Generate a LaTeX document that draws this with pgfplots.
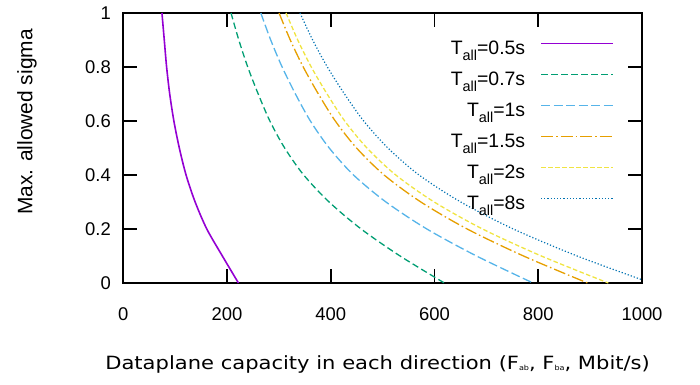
\documentclass[border=0pt]{standalone}
\usepackage{fontspec}
\setmainfont{Liberation Sans}
\newfontfamily\dejavu{DejaVu Sans}
\usepackage{pgfplots}
\pgfplotsset{compat=1.18}
\definecolor{cpurple}{HTML}{9400D3}
\definecolor{cgreen}{HTML}{009E73}
\definecolor{cblue}{HTML}{56B4E9}
\definecolor{corange}{HTML}{E69F00}
\definecolor{cyellow}{HTML}{F0E442}
\definecolor{cdblue}{HTML}{0072B2}
\newcommand\Tall{T\raisebox{-6bp}{\fontsize{14.5}{14.5}\selectfont all}}
\newcommand\sub[1]{\raisebox{-1bp}{\fontsize{7}{7}\selectfont #1}}
\begin{document}
\begin{tikzpicture}
\begin{axis}[name=ax,
  scale only axis, width=518.7bp, height=270bp,
  xmin=0, xmax=1000, ymin=0, ymax=1,
  xtick={0,200,400,600,800,1000},
  ytick={0,0.2,0.4,0.6,0.8,1},
  yticklabels={0,0.2,0.4,0.6,0.8,1},
  /pgf/number format/1000 sep={},
  /pgf/number format/assume math mode=true,
  tick align=inside,
  major tick length=14bp,
  axis line style={line width=1.6bp},
  every tick/.style={black, line width=1.6bp},
  ticklabel style={font=\fontsize{18.5}{20}\selectfont},
  xticklabel style={yshift=-21bp},
  yticklabel style={xshift=-9bp},
  xlabel={\scalebox{1.155}[1]{\dejavu Dataplane capacity in each direction (F\sub{ab}, F\sub{ba}, Mbit/s)}},
  xlabel style={font=\fontsize{18.3}{20}\selectfont, at={(axis description cs:0.5,0)}, anchor=base, yshift=-86bp, xshift=-5bp},
  ylabel={Max. allowed sigma},
  ylabel style={font=\fontsize{21}{22}\selectfont, at={(axis description cs:-0.1857,0.596)}, anchor=center},
  legend style={draw=none, fill=none, at={(rel axis cs:1,1)}, anchor=north east,
    xshift=-25bp, yshift=-25bp, row sep=10bp, column sep=15bp,
    font=\fontsize{19.5}{20}\selectfont,
    nodes={inner sep=0pt, text height=14bp, text depth=7bp}},
  legend cell align=right,
  legend plot pos=right,
  legend image code/.code={\draw[#1, line width=1.6bp] (0bp,7bp) -- (72bp,7bp);},
]
\addplot[cpurple, line width=1.6bp, smooth] coordinates {
(74.5,1) (79,0.9) (83.5,0.8) (89.5,0.7) (97.5,0.6) (108,0.5) (121,0.4) (138.5,0.3) (161,0.2) (191,0.1) (222,0)};
\addlegendentry{\Tall=0.5s}
\addplot[cgreen, line width=1.3bp, smooth, dash pattern=on 6.5bp off 3.5bp] coordinates {
(207.7,1) (222.7,0.9) (239.9,0.8) (260.1,0.7) (282.6,0.6) (311.1,0.5) (347.8,0.4) (396.8,0.3) (458.5,0.2) (533.6,0.1) (619,0)};
\addlegendentry{\Tall=0.7s}
\addplot[cblue, line width=1.3bp, smooth, dash pattern=on 9bp off 3.5bp] coordinates {
(265.1,1) (284.2,0.9) (306.2,0.8) (331.9,0.7) (360.7,0.6) (397.0,0.5) (443.8,0.4) (506.4,0.3) (585.2,0.2) (681.0,0.1) (790,0)};
\addlegendentry{\Tall=1s}
\addplot[corange, line width=1.3bp, smooth, dash pattern=on 12bp off 3bp on 1.5bp off 3bp] coordinates {
(300.3,1) (321.9,0.9) (346.9,0.8) (376.1,0.7) (408.7,0.6) (449.7,0.5) (502.8,0.4) (573.7,0.3) (663.0,0.2) (771.6,0.1) (895,0)};
\addlegendentry{\Tall=1.5s}
\addplot[cyellow, line width=1.3bp, smooth, dash pattern=on 4.5bp off 2.5bp] coordinates {
(313.8,1) (336.3,0.9) (362.4,0.8) (392.9,0.7) (426.9,0.6) (469.8,0.5) (525.3,0.4) (599.4,0.3) (692.6,0.2) (806,0.1) (935,0)};
\addlegendentry{\Tall=2s}
\addplot[cdblue, line width=1.2bp, smooth, dash pattern=on 1.2bp off 2bp] coordinates {
(340.6,1) (365.1,0.9) (393.4,0.8) (426.5,0.7) (463.5,0.6) (510.1,0.5) (570.2,0.4) (650.6,0.3) (751.9,0.2) (875,0.1) (1000,0.012)};
\addlegendentry{\Tall=8s}
\end{axis}
\path ([xshift=-123.3bp,yshift=-102bp]ax.south west) rectangle ([xshift=58bp,yshift=13bp]ax.north east);
\end{tikzpicture}
\end{document}
